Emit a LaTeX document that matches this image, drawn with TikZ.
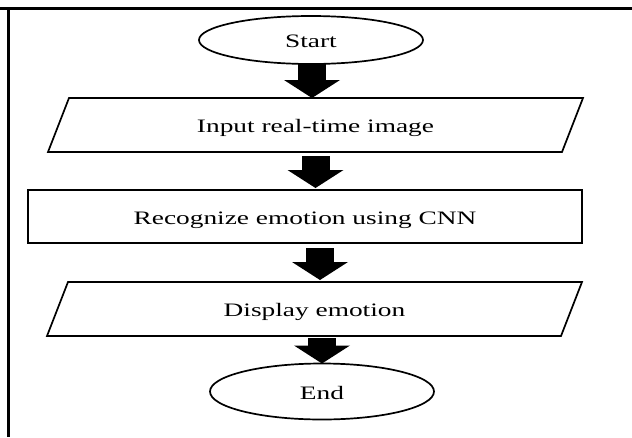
\documentclass[tikz,border=0pt]{standalone}
\usepackage{fontspec}
\setmainfont{Liberation Serif}[FakeStretch=1.44]
\usetikzlibrary{shapes.geometric,arrows.meta}
\begin{document}
\begin{tikzpicture}[x=1pt,y=-1pt,
  frame/.style={line width=2.4pt},
  outline/.style={draw=black,line width=1.7pt},
  labeltext/.style={font=\fontsize{19}{22}\selectfont,text height=15pt,text depth=0pt,inner sep=0pt,outer sep=0pt},
  terminal/.style={ellipse,outline,labeltext},
  process/.style={rectangle,outline,labeltext},
  iobox/.style={rectangle,labeltext},
  flowarrow/.style={line width=28pt,-{Triangle[width=56pt,length=18pt,line width=0pt]}}
]
\useasboundingbox (0,0) rectangle (632,437);

% page frame: top rule and left rule
\coordinate (tl) at (0,8.5);
\coordinate (tr) at (632,8.5);
\coordinate (lt) at (8.3,8.5);
\coordinate (lb) at (8.3,437);
\draw[frame] (tl) -- (tr);
\draw[frame] (lt) -- (lb);

% flowchart nodes
\node[terminal,minimum width=224,minimum height=48] (start) at (311,40) {Start};

\node[iobox,minimum width=514,minimum height=54] (in) at (315.5,125) {Input real-time image};
\draw[outline] ([xshift=-10.5]in.south west) -- ([xshift=-10.5]in.south east)
  -- ([xshift=10.5]in.north east) -- ([xshift=10.5]in.north west) -- cycle;

\node[process,minimum width=554,minimum height=53] (rec) at (305,216.5) {Recognize emotion using CNN};

\node[iobox,minimum width=514,minimum height=54] (disp) at (314.5,309) {Display emotion};
\draw[outline] ([xshift=-10.5]disp.south west) -- ([xshift=-10.5]disp.south east)
  -- ([xshift=10.5]disp.north east) -- ([xshift=10.5]disp.north west) -- cycle;

\node[terminal,minimum width=224,minimum height=56] (end) at (322,391.5) {End};

% block arrows between the steps
\coordinate (a1) at ([xshift=1pt]start.south);
\draw[flowarrow] (a1) -- (a1 |- in.north);

\draw[flowarrow,shorten <=4pt,shorten >=2pt] (in.south) -- (in.south |- rec.north);

\coordinate (a3) at ([xshift=15pt]rec.south);
\draw[flowarrow,shorten <=5pt,shorten >=2pt] (a3) -- (a3 |- disp.north);

\draw[flowarrow,shorten <=2pt] (end.north |- disp.south) -- (end.north);
\end{tikzpicture}
\end{document}
